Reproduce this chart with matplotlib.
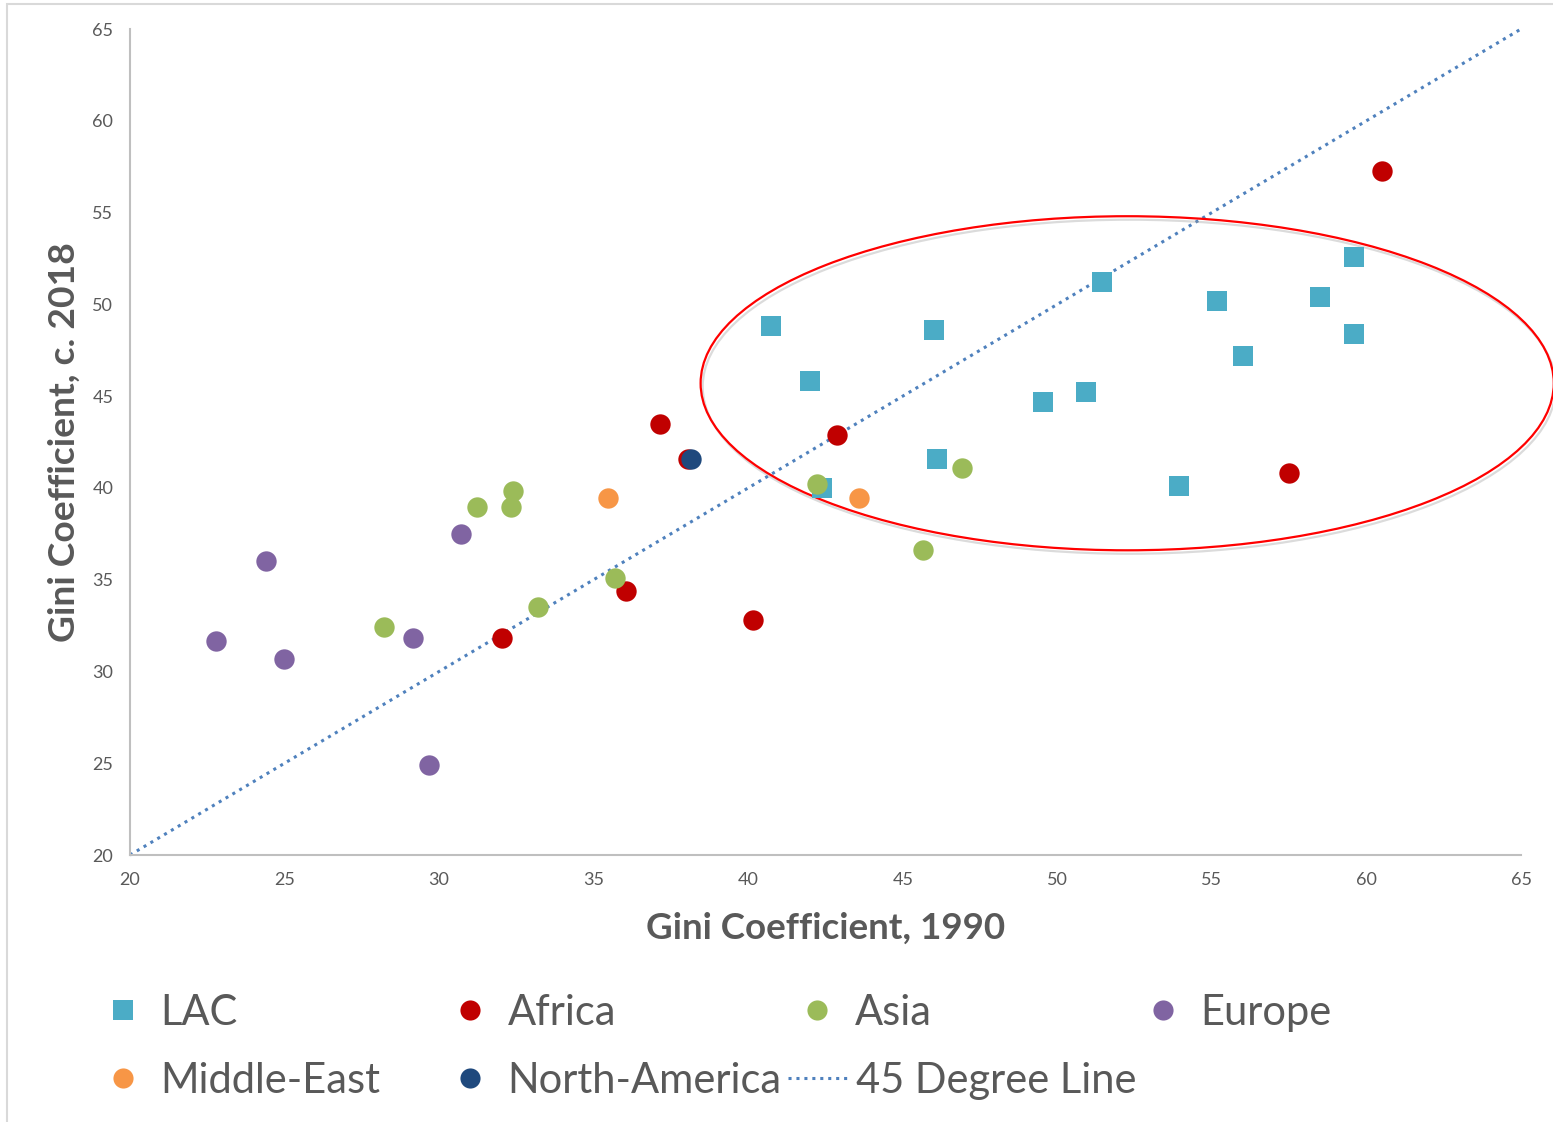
import matplotlib
matplotlib.use("Agg")
import matplotlib.pyplot as plt
from matplotlib.patches import Ellipse, Rectangle
from matplotlib.lines import Line2D
import matplotlib.patheffects as pe

plt.rcParams['font.family'] = ['Lato', 'DejaVu Sans']

# Gini 1990 (x) vs Gini c. 2018 (y) by region
lac_x = [40.74, 42.0, 42.4, 46.0, 46.1, 49.55, 50.94, 51.46, 53.95, 55.15, 56.02, 58.5, 59.6, 59.6]
lac_y = [48.8, 45.8, 40.0, 48.6, 41.6, 44.7, 45.2, 51.2, 40.1, 50.2, 47.2, 50.4, 52.6, 48.4]

africa_x = [37.15, 38.06, 42.88, 36.05, 32.04, 40.16, 57.48, 60.49]
africa_y = [43.5, 41.6, 42.9, 34.4, 31.8, 32.8, 40.8, 57.25]

asia_x = [31.23, 32.39, 32.33, 28.22, 33.2, 35.7, 42.23, 46.93, 45.66]
asia_y = [38.95, 39.83, 38.95, 32.4, 33.5, 35.1, 40.2, 41.08, 36.6]

europe_x = [22.78, 24.4, 24.98, 29.16, 29.68, 30.71]
europe_y = [31.66, 36.0, 30.68, 31.8, 24.9, 37.48]

mideast_x = [35.47, 43.59]
mideast_y = [39.44, 39.44]

namerica_x = [38.16]
namerica_y = [41.57]

line_x = [20, 65]
line_y = [20, 65]

ticks = [20, 25, 30, 35, 40, 45, 50, 55, 60, 65]

fig = plt.figure(figsize=(15.53, 11.22), dpi=100)
ax = fig.add_axes([130/1553, 1-855/1122, (1521-130)/1553, (855-29)/1122])

# chart area border
fig.patches.append(Rectangle((7/1553, -0.05), 1.2, 1.05 - 4/1122, transform=fig.transFigure,
                             fill=False, edgecolor='#D9D9D9', lw=1.5, zorder=0))

ln, = ax.plot(line_x, line_y, color='#4F81BD', lw=2.2, linestyle=(0, (1, 1.6)),
              dash_capstyle='butt', zorder=2, clip_on=False)

ell = Ellipse((52.26, 45.7), 27.6, 18.2, fill=False, edgecolor='#FF0000', lw=1.6,
              zorder=3, clip_on=False,
              path_effects=[pe.SimpleLineShadow(offset=(1.5, -2.5), shadow_color='#999999', alpha=0.35),
                            pe.Normal()])
ax.add_patch(ell)

ms = 215
h_lac = ax.scatter(lac_x, lac_y, marker='s', s=ms, color='#4BACC6', zorder=4, linewidths=0)
h_afr = ax.scatter(africa_x, africa_y, marker='o', s=ms, color='#C00000', zorder=4, linewidths=0)
h_asia = ax.scatter(asia_x, asia_y, marker='o', s=ms, color='#9BBB59', zorder=5, linewidths=0)
h_eur = ax.scatter(europe_x, europe_y, marker='o', s=ms, color='#8064A2', zorder=4, linewidths=0)
h_me = ax.scatter(mideast_x, mideast_y, marker='o', s=ms, color='#F79646', zorder=4, linewidths=0)
h_na = ax.scatter(namerica_x, namerica_y, marker='o', s=ms, color='#1F497D', zorder=5, linewidths=0)

ax.set_xlim(20, 65)
ax.set_ylim(20, 65)
ax.set_xticks(ticks)
ax.set_yticks(ticks)
ax.tick_params(length=0, labelsize=13, labelcolor='#595959')
ax.tick_params(axis='y', pad=12)
ax.tick_params(axis='x', pad=12)
for s in ['top', 'right']:
    ax.spines[s].set_visible(False)
for s in ['left', 'bottom']:
    ax.spines[s].set_color('#BFBFBF')
    ax.spines[s].set_linewidth(1.5)

ax.set_xlabel('Gini Coefficient, 1990', fontsize=26.5, fontweight='bold', color='#595959', labelpad=17)
ax.set_ylabel('Gini Coefficient, c. 2018', fontsize=26.8, fontweight='bold', color='#595959', labelpad=8)

# legend entries placed like the Excel legend
labels = ['LAC', 'Africa', 'Asia', 'Europe', 'Middle-East', 'North-America', '45 Degree Line']
handles = [
    Line2D([], [], marker='s', ls='none', ms=14.5, color='#4BACC6', mew=0),
    Line2D([], [], marker='o', ls='none', ms=14.5, color='#C00000', mew=0),
    Line2D([], [], marker='o', ls='none', ms=14.5, color='#9BBB59', mew=0),
    Line2D([], [], marker='o', ls='none', ms=14.5, color='#8064A2', mew=0),
    Line2D([], [], marker='o', ls='none', ms=14.5, color='#F79646', mew=0),
    Line2D([], [], marker='o', ls='none', ms=14.5, color='#1F497D', mew=0),
    Line2D([], [], color='#4F81BD', lw=2.2, linestyle=(0, (1, 1.6)), dash_capstyle='butt'),
]
pos = [(93, 1013), (440, 1013), (787, 1013), (1133, 1013),
       (93, 1081), (440, 1081), (788, 1081)]
for h, lab, (px, py) in zip(handles, labels, pos):
    lg = fig.legend([h], [lab], loc='center left', bbox_to_anchor=(px/1553, 1-py/1122),
                    frameon=False, fontsize=30, handlelength=1.45, handletextpad=0.17,
                    borderpad=0, borderaxespad=0, labelcolor='#595959')

fig.savefig('out.png', dpi=100)
